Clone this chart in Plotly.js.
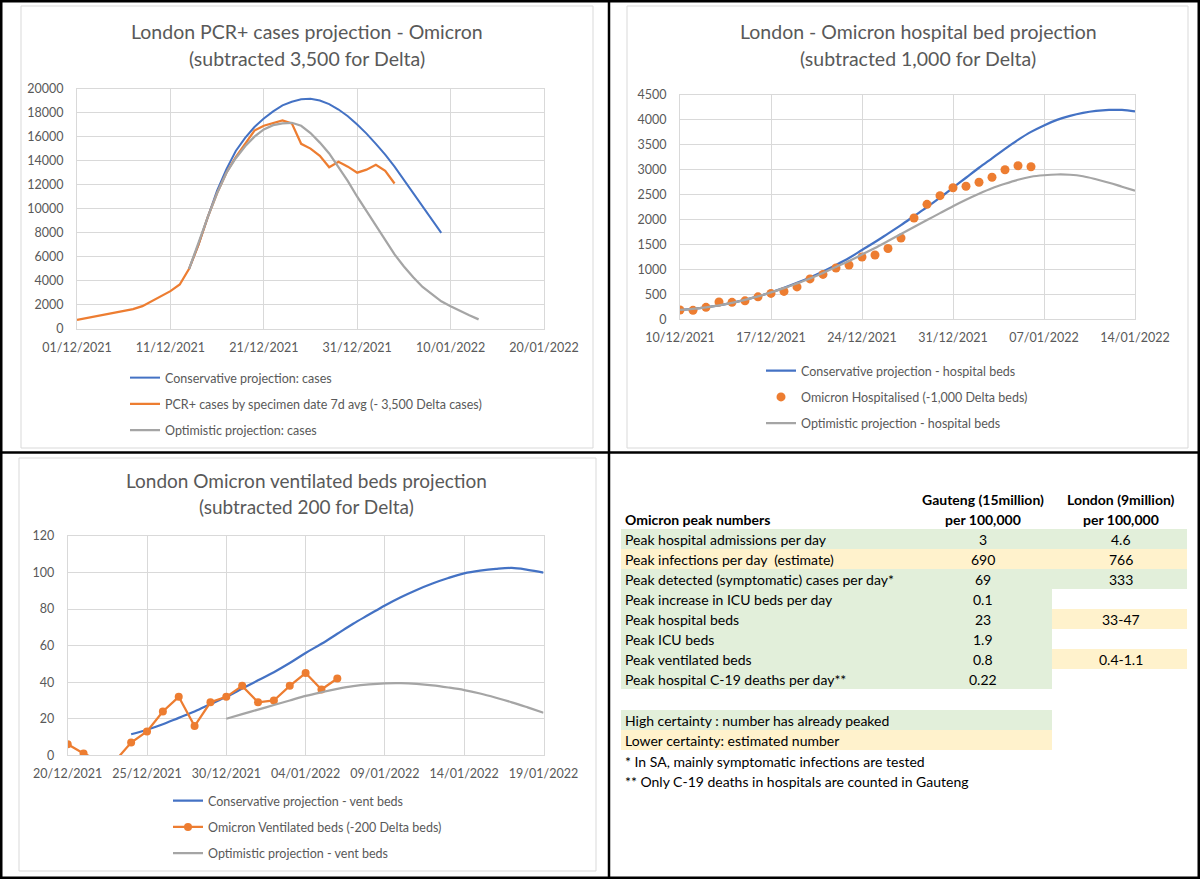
<!DOCTYPE html>
<html><head><meta charset="utf-8">
<script src="https://cdn.plot.ly/plotly-3.0.1.min.js"></script>
<style>html,body{margin:0;padding:0;background:#fff}#chart{width:1200px;height:879px}</style>
</head><body><div id="chart"></div>
<script>
// ---------- DATA ----------
// Chart 1: London PCR+ cases (daily values)
const casesConsStart = '2021-12-13';
const casesConservative = [5000,7000,9300,11500,13300,14800,15900,16800,17500,18100,18600,18900,19100,19150,19000,18700,18250,17700,17000,16250,15400,14500,13500,12400,11300,10200,9100,8000];
const casesPcrStart = '2021-12-01';
const casesPcr = [750,900,1050,1200,1300,1450,1650,1900,2300,2750,3150,3700,5000,7000,9300,11300,13000,14300,15400,16500,16900,17100,17350,17100,15400,15000,14400,13450,13900,13500,13000,13250,13650,13150,12100];
const casesOptStart = '2021-12-13';
const casesOptimistic = [5000,7200,9300,11300,13000,14200,15200,16000,16600,16950,17100,17150,16900,16300,15500,14600,13500,12300,11000,9800,8500,7300,6200,5200,4300,3500,2900,2300,1900,1500,1150,800];

// Chart 2: London hospital beds
const bedsStart = '2021-12-10';
const bedsConservative = [190,210,240,280,330,390,460,540,630,730,840,960,1090,1230,1390,1550,1720,1890,2070,2250,2440,2640,2840,3040,3230,3420,3600,3760,3890,4000,4080,4140,4180,4200,4200,4170];
const bedsHospitalised = [187,180,240,348,340,370,450,520,560,650,810,900,1030,1090,1250,1290,1420,1631,2032,2306,2480,2640,2670,2750,2850,3000,3080,3060];
const bedsOptimistic = [190,210,240,280,330,390,460,540,625,720,820,930,1050,1170,1300,1430,1570,1710,1850,1990,2130,2270,2400,2520,2630,2720,2800,2860,2890,2905,2900,2870,2810,2740,2660,2580];

// Chart 3: London ventilated beds
const ventConsStart = '2021-12-24';
const ventConservative = [11.5,14,17,20.5,24,28,32,36.5,41,45.5,50.5,56,61,66.5,72,77,82,86.5,90.5,94,97,99.5,101,102,102.5,101.5,100];
const ventObsStart = '2021-12-20';
const ventObserved = [6,1,-3,-3,7,13,24,32,16,29,32,38,29,30,38,45,36,42];
const ventOptStart = '2021-12-30';
const ventOptimistic = [20,22.5,25,27.5,30,32.5,34.5,36.3,37.8,38.8,39.4,39.5,39.1,38.3,37.1,35.7,33.8,31.5,29,26.2,23.3];

// Table
const tableHeadA = 'Omicron peak numbers';
const tableHeadB = ['Gauteng (15million)', 'per 100,000'];
const tableHeadC = ['London (9million)', 'per 100,000'];
const tableLabels = ['Peak hospital admissions per day','Peak infections per day\u00a0 (estimate)','Peak detected (symptomatic) cases per day*','Peak increase in ICU beds per day','Peak hospital beds','Peak ICU beds','Peak ventilated beds','Peak hospital C-19 deaths per day**'];
const gautengVals = ['3','690','69','0.1','23','1.9','0.8','0.22'];
const londonVals = ['4.6','766','333','','33-47','','0.4-1.1',''];
const certaintyAB = ['high','low','high','high','high','high','high','high'];
const certaintyC = ['high','low','high','','low','','low',''];
const keyLabels = ['High certainty : number has already peaked','Lower certainty: estimated number'];
const keyLevels = ['high','low'];
const footnotes = ['* In SA, mainly symptomatic infections are tested','** Only C-19 deaths in hospitals are counted in Gauteng'];

// ---------- HELPERS ----------
function dates(start, n){
  const p = start.split('-').map(Number); const out = [];
  for(let i=0;i<n;i++){ out.push(new Date(Date.UTC(p[0],p[1]-1,p[2]+i)).toISOString().slice(0,10)); }
  return out;
}
const W = 1200, H = 879;
const X = px => px / W;
const Y = py => 1 - py / H;

const FONT = 'Lato, "Open Sans", "DejaVu Sans", sans-serif';
const TXT = '#595959';
const GRID = '#D9D9D9';
const BLUE = '#4472C4', ORANGE = '#ED7D31', GRAY = '#A5A5A5';
const GREEN_FILL = '#E2EFDA', YELLOW_FILL = '#FFF2CC';
const DAY = 86400000;

// ---------- TRACES ----------
const traces = [
  {x: dates(casesConsStart, casesConservative.length), y: casesConservative, type:'scatter', mode:'lines', name:'Conservative projection: cases', line:{color:BLUE, width:2}, xaxis:'x', yaxis:'y', legend:'legend', legendgroup:'a1'},
  {x: dates(casesPcrStart, casesPcr.length), y: casesPcr, type:'scatter', mode:'lines', name:'PCR+ cases by specimen date 7d avg (- 3,500 Delta cases)', line:{color:ORANGE, width:2.25}, xaxis:'x', yaxis:'y', legend:'legend', legendgroup:'a2'},
  {x: dates(casesOptStart, casesOptimistic.length), y: casesOptimistic, type:'scatter', mode:'lines', name:'Optimistic projection: cases', line:{color:GRAY, width:2.25}, xaxis:'x', yaxis:'y', legend:'legend', legendgroup:'a3'},

  {x: dates(bedsStart, bedsConservative.length), y: bedsConservative, type:'scatter', mode:'lines', name:'Conservative projection - hospital beds', line:{color:BLUE, width:2.25, shape:'spline'}, xaxis:'x2', yaxis:'y2', legend:'legend2', legendgroup:'b1'},
  {x: dates(bedsStart, bedsHospitalised.length), y: bedsHospitalised, type:'scatter', mode:'markers', name:'Omicron Hospitalised (-1,000 Delta beds)', marker:{color:ORANGE, size:9}, xaxis:'x2', yaxis:'y2', legend:'legend2', legendgroup:'b2'},
  {x: dates(bedsStart, bedsOptimistic.length), y: bedsOptimistic, type:'scatter', mode:'lines', name:'Optimistic projection - hospital beds', line:{color:GRAY, width:2.25, shape:'spline'}, xaxis:'x2', yaxis:'y2', legend:'legend2', legendgroup:'b3'},

  {x: dates(ventConsStart, ventConservative.length), y: ventConservative, type:'scatter', mode:'lines', name:'Conservative projection - vent beds', line:{color:BLUE, width:2.25, shape:'spline'}, xaxis:'x3', yaxis:'y3', legend:'legend3', legendgroup:'c1'},
  {x: dates(ventObsStart, ventObserved.length), y: ventObserved, type:'scatter', mode:'lines+markers', name:'Omicron Ventilated beds (-200 Delta beds)', line:{color:ORANGE, width:2.25}, marker:{color:ORANGE, size:8}, xaxis:'x3', yaxis:'y3', legend:'legend3', legendgroup:'c2'},
  {x: dates(ventOptStart, ventOptimistic.length), y: ventOptimistic, type:'scatter', mode:'lines', name:'Optimistic projection - vent beds', line:{color:GRAY, width:2.25, shape:'spline'}, xaxis:'x3', yaxis:'y3', legend:'legend3', legendgroup:'c3'}
];

// ---------- AXES ----------
function xax(domain, r0, r1, dt, anchor){
  return {domain: domain, anchor: anchor, type:'date', range:[r0, r1], tick0:r0, dtick: dt*DAY, tickformat:'%d/%m/%Y',
    showgrid:true, gridcolor:GRID, gridwidth:1, showline:true, linecolor:GRID, linewidth:1, mirror:true,
    zeroline:false, ticks:'', ticklabelstandoff:7, tickfont:{family:FONT, size:12.5, color:TXT}, fixedrange:true};
}
function yax(domain, r1, dt, anchor){
  return {domain: domain, range:[0, r1], dtick: dt, tick0:0, tickformat:'d', showgrid:true, gridcolor:GRID, gridwidth:1,
    showline:true, linecolor:GRID, linewidth:1, mirror:true, zeroline:false, ticks:'', ticklabelstandoff:10,
    tickfont:{family:FONT, size:12.5, color:TXT}, anchor: anchor, fixedrange:true};
}

const legendBase = {xanchor:'left', yanchor:'top', bgcolor:'rgba(0,0,0,0)', borderwidth:0,
  font:{family:FONT, size:12.5, color:TXT}, traceorder:'grouped', tracegroupgap:7, itemwidth:30};

// ---------- SHAPES ----------
const shapes = [];
function rect(x0,y0,x1,y1,fill,lc,lw,layer){
  shapes.push({type:'rect', xref:'paper', yref:'paper', x0:X(x0), x1:X(x1), y0:Y(y1), y1:Y(y0),
    fillcolor: fill || 'rgba(0,0,0,0)', line:{color: lc || 'rgba(0,0,0,0)', width: lw || 0}, layer: layer || 'below'});
}
function line(x0,y0,x1,y1,c,w){
  shapes.push({type:'line', xref:'paper', yref:'paper', x0:X(x0), x1:X(x1), y0:Y(y0), y1:Y(y1), line:{color:c, width:w}, layer:'above'});
}
// chart area boxes
rect(21,6,593,448,null,GRID,1);
rect(627,6,1188,448,null,GRID,1);
rect(19,458,596,871,null,GRID,1);

// table fills
const fillOf = lvl => lvl === 'high' ? GREEN_FILL : (lvl === 'low' ? YELLOW_FILL : null);
const rowTop = 529, rowH = 20;
const colA = 621, colBend = 1052, colCend = 1187;
tableLabels.forEach((_, i) => {
  const t = rowTop + i*rowH;
  const fa = fillOf(certaintyAB[i]); if(fa) rect(colA, t, colBend, t+rowH, fa, null, 0);
  const fc = fillOf(certaintyC[i]); if(fc) rect(colBend, t, colCend, t+rowH, fc, null, 0);
});
const keyTop = 710;
keyLabels.forEach((_, i) => { rect(colA, keyTop + i*rowH, colBend, keyTop + (i+1)*rowH, fillOf(keyLevels[i]), null, 0); });

// black frame & dividers
rect(1.25,1.25,1198.75,877.75,null,'#000',2.5,'above');
line(609,0,609,879,'#000',2.5);
line(0,452.5,1200,452.5,'#000',2.5);

// ---------- ANNOTATIONS ----------
const ann = [];
function txt(x,y,text,opts){
  opts = opts || {};
  ann.push({xref:'paper', yref:'paper', x:X(x), y:Y(y), text:text, showarrow:false,
    xanchor: opts.xa || 'center', yanchor:'middle',
    font:{family:FONT, size: opts.size || 14, color: opts.color || '#000'}});
}
// titles
txt(307,31,'London PCR+ cases projection - Omicron',{size:19.5,color:TXT});
txt(307,58,'(subtracted 3,500 for Delta)',{size:19.5,color:TXT});
txt(918,31,'London - Omicron hospital bed projection',{size:19.5,color:TXT});
txt(918,58,'(subtracted 1,000 for Delta)',{size:19.5,color:TXT});
txt(306,480,'London Omicron ventilated beds projection',{size:19,color:TXT});
txt(306,506,'(subtracted 200 for Delta)',{size:19,color:TXT});

// table text
const colBc = 983, colCc = 1121, colAx = 623;
txt(colBc, 499, '<b>'+tableHeadB[0]+'</b>');
txt(colBc, 519, '<b>'+tableHeadB[1]+'</b>');
txt(colCc, 499, '<b>'+tableHeadC[0]+'</b>');
txt(colCc, 519, '<b>'+tableHeadC[1]+'</b>');
txt(colAx, 519, '<b>'+tableHeadA+'</b>', {xa:'left'});
tableLabels.forEach((lab, i) => {
  const cy = rowTop + i*rowH + rowH/2;
  txt(colAx, cy, lab, {xa:'left'});
  if(gautengVals[i]) txt(colBc, cy, gautengVals[i]);
  if(londonVals[i]) txt(colCc, cy, londonVals[i]);
});
keyLabels.forEach((lab, i) => txt(colAx, keyTop + i*rowH + rowH/2, lab, {xa:'left'}));
footnotes.forEach((f, i) => txt(colAx, 761 + i*20, f, {xa:'left'}));

// ---------- LAYOUT ----------
const layout = {
  width: W, height: H, margin:{l:0,r:0,t:0,b:0}, paper_bgcolor:'#fff', plot_bgcolor:'#fff',
  font:{family:FONT, color:TXT}, hovermode:false, showlegend:true,
  xaxis: xax([X(77), X(544)], '2021-12-01', '2022-01-20', 10, 'y'),
  yaxis: yax([Y(329), Y(88.5)], 20000, 2000, 'x'),
  xaxis2: xax([X(680), X(1135)], '2021-12-10', '2022-01-14', 7, 'y2'),
  yaxis2: yax([Y(319.3), Y(95)], 4500, 500, 'x2'),
  xaxis3: xax([X(67.7), X(543.5)], '2021-12-20', '2022-01-19', 5, 'y3'),
  yaxis3: yax([Y(755.3), Y(536)], 120, 20, 'x3'),
  legend: Object.assign({}, legendBase, {x:X(125), y:Y(363)}),
  legend2: Object.assign({}, legendBase, {x:X(761), y:Y(356)}),
  legend3: Object.assign({}, legendBase, {x:X(168), y:Y(786)}),
  shapes: shapes, annotations: ann
};

Plotly.newPlot('chart', traces, layout, {staticPlot:true, displayModeBar:false});
</script></body></html>
